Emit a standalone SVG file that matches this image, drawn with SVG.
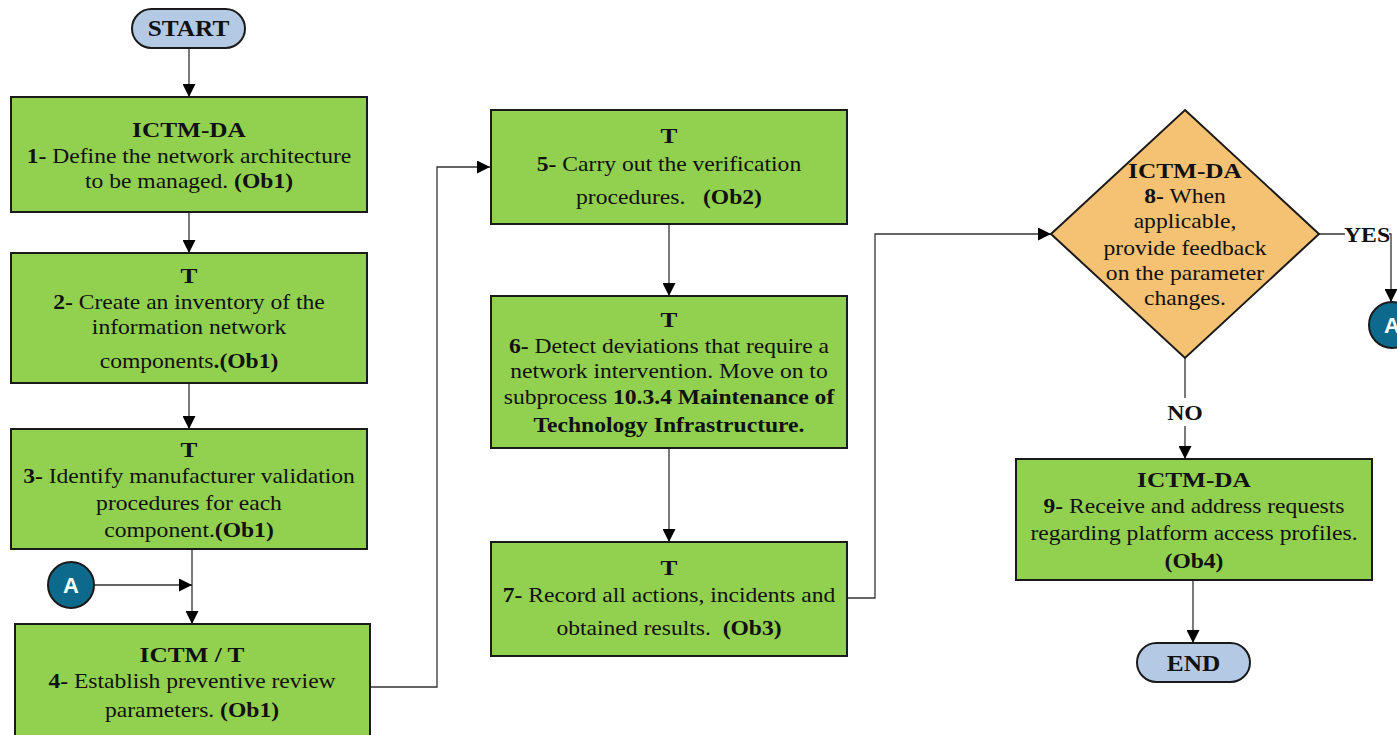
<svg xmlns="http://www.w3.org/2000/svg" width="1397" height="735" viewBox="0 0 1397 735">
  <style>
    text { font-family: "Liberation Serif", "DejaVu Serif", serif; fill: #111; text-anchor: middle; }
    .ttl { font-size: 22px; font-weight: bold; }
    .txt { font-size: 20.5px; }
    .b { font-weight: bold; }
    .box { fill: #92D050; stroke: #1a1a1a; stroke-width: 2; }
    .term { fill: #B4C9E3; stroke: #1a1a1a; stroke-width: 2; }
    .dec { fill: #F5C173; stroke: #1a1a1a; stroke-width: 2; }
    .conn { fill: #0E6A8C; stroke: #1a1a1a; stroke-width: 2; }
    .conn-t { font-family: "Liberation Sans", Arial, sans-serif; font-size: 22px; font-weight: bold; fill: #fff; }
    .edge { fill: none; stroke: #333; stroke-width: 1.3; }
    .lbl { font-size: 22px; font-weight: bold; }
  </style>
  <defs>
    <marker id="arr" viewBox="0 0 10 10" refX="10" refY="5" markerWidth="13" markerHeight="13" markerUnits="userSpaceOnUse" orient="auto">
      <path d="M0,0 L10,5 L0,10 z" fill="#000"/>
    </marker>
  </defs>

  <rect width="1397" height="735" fill="#fff"/>

  <!-- connectors -->
  <g id="edges">
    <path class="edge" d="M189,48 V97" marker-end="url(#arr)"/>
    <path class="edge" d="M189,212 V253" marker-end="url(#arr)"/>
    <path class="edge" d="M189,383 V429" marker-end="url(#arr)"/>
    <path class="edge" d="M192,549 V624" marker-end="url(#arr)"/>
    <path class="edge" d="M94,585 H192" marker-end="url(#arr)"/>
    <path class="edge" d="M370,687 H437 V167 H490" marker-end="url(#arr)"/>
    <path class="edge" d="M669,224 V296" marker-end="url(#arr)"/>
    <path class="edge" d="M669,448 V542" marker-end="url(#arr)"/>
    <path class="edge" d="M847,598 H875 V234 H1051" marker-end="url(#arr)"/>
    <path class="edge" d="M1319,234 H1391 V302" marker-end="url(#arr)"/>
    <path class="edge" d="M1185,358 V459" marker-end="url(#arr)"/>
    <path class="edge" d="M1193,580 V643" marker-end="url(#arr)"/>
    <!-- branch labels -->
    <rect x="1345" y="222" width="44" height="24" fill="#fff"/>
    <g transform="translate(1367,0) scale(1.08,1)"><text class="lbl" x="0" y="242">YES</text></g>
    <rect x="1164" y="398" width="42" height="28" fill="#fff"/>
    <g transform="translate(1185,0) scale(1.08,1)"><text class="lbl" x="0" y="420">NO</text></g>
  </g>

  <g id="start">
    <rect class="term" x="132" y="9" width="113" height="39" rx="19.5"/>
    <g transform="translate(188.5,0) scale(1.1,1)"><text class="lbl" x="0" y="36" style="font-size:23px">START</text></g>
  </g>

  <g id="step1">
    <rect class="box" x="11" y="97" width="356" height="115"/>
    <g transform="translate(189,0) scale(1.15,1)">
      <text class="ttl" x="0" y="137">ICTM-DA</text>
      <text class="txt" x="0" y="163"><tspan class="b">1-</tspan> Define the network architecture</text>
      <text class="txt" x="0" y="188">to be managed. <tspan class="b">(Ob1)</tspan></text>
    </g>
  </g>

  <g id="step2">
    <rect class="box" x="11" y="253" width="356" height="130"/>
    <g transform="translate(189,0) scale(1.15,1)">
      <text class="ttl" x="0" y="283">T</text>
      <text class="txt" x="0" y="309"><tspan class="b">2-</tspan> Create an inventory of the</text>
      <text class="txt" x="0" y="334">information network</text>
      <text class="txt" x="0" y="368">components<tspan class="b">.(Ob1)</tspan></text>
    </g>
  </g>

  <g id="step3">
    <rect class="box" x="11" y="429" width="356" height="120"/>
    <g transform="translate(189,0) scale(1.15,1)">
      <text class="ttl" x="0" y="457">T</text>
      <text class="txt" x="0" y="483"><tspan class="b">3-</tspan> Identify manufacturer validation</text>
      <text class="txt" x="0" y="510">procedures for each</text>
      <text class="txt" x="0" y="537">component.<tspan class="b">(Ob1)</tspan></text>
    </g>
  </g>

  <g id="connA-in">
    <circle class="conn" cx="71" cy="585" r="23"/>
    <text class="conn-t" x="71" y="593">A</text>
  </g>

  <g id="step4">
    <rect class="box" x="15" y="624" width="355" height="125"/>
    <g transform="translate(192,0) scale(1.15,1)">
      <text class="ttl" x="0" y="662">ICTM / T</text>
      <text class="txt" x="0" y="688"><tspan class="b">4-</tspan> Establish preventive review</text>
      <text class="txt" x="0" y="717">parameters. <tspan class="b">(Ob1)</tspan></text>
    </g>
  </g>

  <g id="step5">
    <rect class="box" x="491" y="110" width="356" height="114"/>
    <g transform="translate(669,0) scale(1.15,1)">
      <text class="ttl" x="0" y="143">T</text>
      <text class="txt" x="0" y="171"><tspan class="b">5-</tspan> Carry out the verification</text>
      <text class="txt" x="0" y="204">procedures.&#160;&#160; <tspan class="b">(Ob2)</tspan></text>
    </g>
  </g>

  <g id="step6">
    <rect class="box" x="491" y="296" width="356" height="152"/>
    <g transform="translate(669,0) scale(1.15,1)">
      <text class="ttl" x="0" y="327">T</text>
      <text class="txt" x="0" y="353"><tspan class="b">6-</tspan> Detect deviations that require a</text>
      <text class="txt" x="0" y="378">network intervention. Move on to</text>
      <text class="txt" x="0" y="404">subprocess <tspan class="b">10.3.4 Maintenance of</tspan></text>
      <text class="txt b" x="0" y="432">Technology Infrastructure.</text>
    </g>
  </g>

  <g id="step7">
    <rect class="box" x="491" y="542" width="356" height="114"/>
    <g transform="translate(669,0) scale(1.15,1)">
      <text class="ttl" x="0" y="575">T</text>
      <text class="txt" x="0" y="602"><tspan class="b">7-</tspan> Record all actions, incidents and</text>
      <text class="txt" x="0" y="635">obtained results.&#160; <tspan class="b">(Ob3)</tspan></text>
    </g>
  </g>

  <g id="step8">
    <polygon class="dec" points="1185,110 1319,234 1185,358 1051,234"/>
    <g transform="translate(1185,0) scale(1.15,1)">
      <text class="ttl" x="0" y="178">ICTM-DA</text>
      <text class="txt" x="0" y="203"><tspan class="b">8-</tspan> When</text>
      <text class="txt" x="0" y="228">applicable,</text>
      <text class="txt" x="0" y="255">provide feedback</text>
      <text class="txt" x="0" y="280">on the parameter</text>
      <text class="txt" x="0" y="305">changes.</text>
    </g>
  </g>

  <g id="connA-out">
    <circle class="conn" cx="1392" cy="325" r="23"/>
    <text class="conn-t" x="1392" y="333">A</text>
  </g>

  <g id="step9">
    <rect class="box" x="1016" y="459" width="356" height="121"/>
    <g transform="translate(1194,0) scale(1.15,1)">
      <text class="ttl" x="0" y="487">ICTM-DA</text>
      <text class="txt" x="0" y="513"><tspan class="b">9-</tspan> Receive and address requests</text>
      <text class="txt" x="0" y="540">regarding platform access profiles.</text>
      <text class="txt b" x="0" y="568">(Ob4)</text>
    </g>
  </g>

  <g id="end">
    <rect class="term" x="1137" y="643" width="113" height="39" rx="19.5"/>
    <g transform="translate(1193.5,0) scale(1.1,1)"><text class="lbl" x="0" y="671" style="font-size:23px">END</text></g>
  </g>
</svg>
